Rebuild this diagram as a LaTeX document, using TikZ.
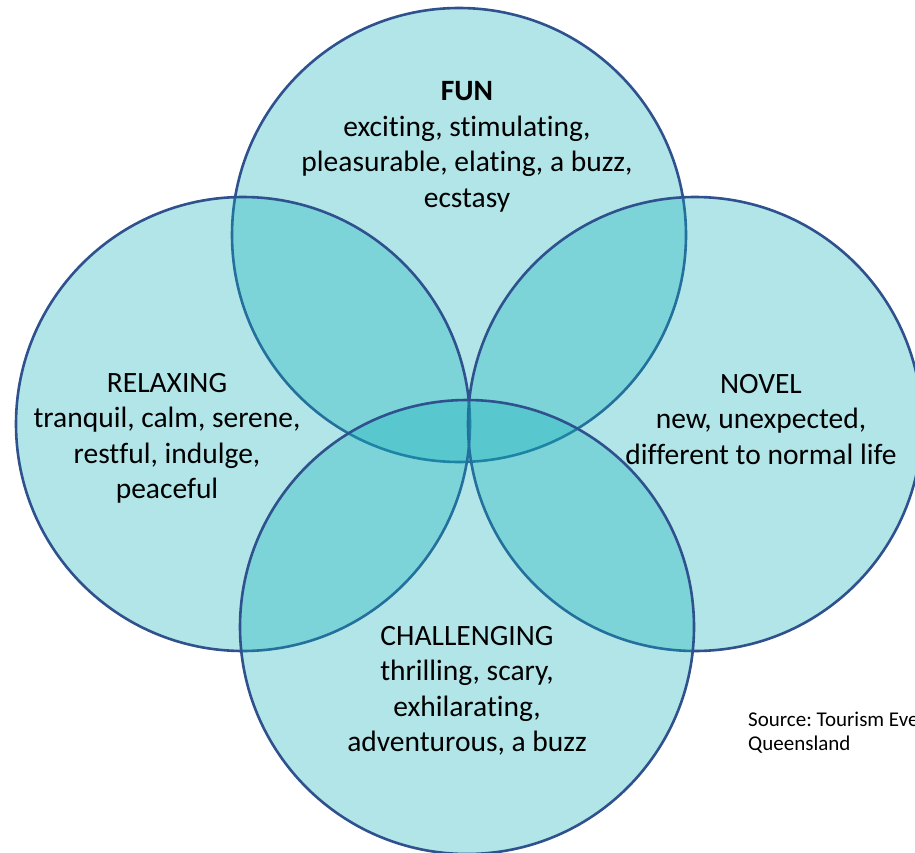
\documentclass[tikz,border=0pt]{standalone}
\usepackage{fontspec}
\setmainfont[Ligatures=NoCommon]{Carlito}
\frenchspacing
\definecolor{vfill}{RGB}{15,176,185}
\definecolor{vline}{RGB}{47,82,143}
\begin{document}
\begin{tikzpicture}[x=1pt,y=-1pt,
  venn/.style={fill=vfill,fill opacity=0.32,draw=vline,draw opacity=1,line width=2.6pt},
  lbl/.style={align=center,anchor=base,inner sep=0pt,text=black,font=\fontsize{29.5}{35.5}\selectfont},
  srclbl/.style={align=left,anchor=base west,inner sep=0pt,text=black,font=\fontsize{21}{24.7}\selectfont}]
\useasboundingbox (0,0) rectangle (915,853);
\clip (0,0) rectangle (915,853);
\fill[white] (0,0) rectangle (915,853);
\coordinate (ctop) at (459,235);
\coordinate (cleft) at (243,424);
\coordinate (cright) at (695,424);
\coordinate (cbot) at (467,627);
\draw[venn] (ctop) circle[radius=227];
\draw[venn] (cleft) circle[radius=227];
\draw[venn] (cright) circle[radius=227];
\draw[venn] (cbot) circle[radius=227];
% anchor "base" of a multi-line node is the baseline of its last line
\node[lbl] (fun) at (467,207.5) {\textbf{FUN}\\exciting, stimulating,\\pleasurable, elating, a buzz,\\ecstasy};
\node[lbl] (relax) at (167,498.5) {RELAXING\\tranquil, calm, serene,\\restful, indulge,\\peaceful};
\node[lbl] (novel) at (761,464) {NOVEL\\new, unexpected,\\different to normal life};
\node[lbl] (chall) at (467,751.5) {CHALLENGING\\thrilling, scary,\\exhilarating,\\adventurous, a buzz};
\node[srclbl] (src) at (748,750.7) {Source: Tourism Events\\Queensland};
\end{tikzpicture}
\end{document}
